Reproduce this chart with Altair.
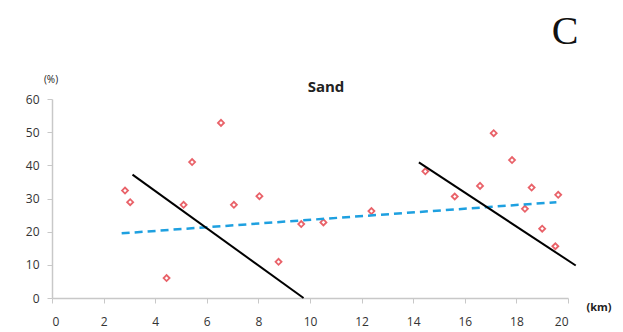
import altair as alt
import pandas as pd

# observed sand percentages
km = [2.83, 3.03, 4.44, 5.10, 5.43, 6.55, 7.05, 8.04, 8.78, 9.66,
      10.52, 12.38, 14.47, 15.61, 16.59, 17.12, 17.83, 18.33, 18.59, 19.00, 19.51, 19.62]
sand = [32.4, 28.9, 6.0, 28.1, 41.0, 52.8, 28.1, 30.7, 10.9, 22.3,
        22.8, 26.2, 38.2, 30.6, 33.8, 49.7, 41.6, 26.9, 33.3, 20.9, 15.6, 31.1]

# trend line endpoints
seg1_x = [3.12, 9.75]
seg1_y = [37.2, 0.0]
seg2_x = [14.22, 20.3]
seg2_y = [40.9, 9.8]
trend_x = [2.7, 19.55]
trend_y = [19.5, 28.9]

x_ticks = [0, 2, 4, 6, 8, 10, 12, 14, 16, 18, 20]
y_ticks = [0, 10, 20, 30, 40, 50, 60]

pts = pd.DataFrame({"km": km, "sand": sand})
seg = pd.DataFrame({"km": seg1_x + seg2_x, "sand": seg1_y + seg2_y,
                    "g": ["a", "a", "b", "b"]})
trend = pd.DataFrame({"km": trend_x, "sand": trend_y})

FONT = "Open Sans"
xs = alt.Scale(domain=[0, 20], nice=False)
ys = alt.Scale(domain=[0, 60], nice=False)

xax = alt.Axis(values=x_ticks, grid=False, domainColor="#c8c8c8",
               tickColor="#c8c8c8", tickSize=5, labelPadding=13, labelFontSize=12,
               labelColor="#333333", labelFont=FONT, title=None, domainWidth=1.5,
               labelOverlap=False)
yax = alt.Axis(values=y_ticks, grid=False, domainColor="#c8c8c8",
               tickColor="#c8c8c8", tickSize=5, labelPadding=8, labelFontSize=12,
               labelColor="#333333", labelFont=FONT, title=None, domainWidth=1.5,
               labelOverlap=False)

X = alt.X("km:Q", scale=xs, axis=xax)
Y = alt.Y("sand:Q", scale=ys, axis=yax)

base_pts = alt.Chart(pts).mark_point(shape="diamond", filled=False, color="#e0202a",
                                     strokeWidth=1.8, size=36).encode(x=X, y=Y)

lines = alt.Chart(seg).mark_line(color="black", strokeWidth=2, clip=False).encode(
    x=X, y=Y, detail="g:N")

tr = alt.Chart(trend).mark_line(color="#1ea0e0", strokeWidth=2.5,
                                strokeDash=[8, 5]).encode(x=X, y=Y)

def label(txt, x, y, size, weight="normal", font=FONT, color="#222222"):
    return alt.Chart(pd.DataFrame({"t": [txt]})).mark_text(
        fontSize=size, fontWeight=weight, font=font, color=color,
        align="center", baseline="middle").encode(
        text="t:N", x=alt.value(x), y=alt.value(y))

texts = [
    label("Sand", 274, -12, 15, "bold"),
    label("(%)", -1, -19, 10),
    label("(km)", 547, 209, 11, "bold"),
    label("C", 513, -67, 40, "normal", "Liberation Serif", "#111111"),
]

chart = alt.layer(base_pts, tr, lines, *texts).properties(
    width=516, height=199,
    autosize="none",
    padding={"left": 52, "top": 99, "right": 55, "bottom": 34},
).configure_view(stroke=None)

chart.save("out.html", embed_options={"renderer": "svg", "actions": False})
